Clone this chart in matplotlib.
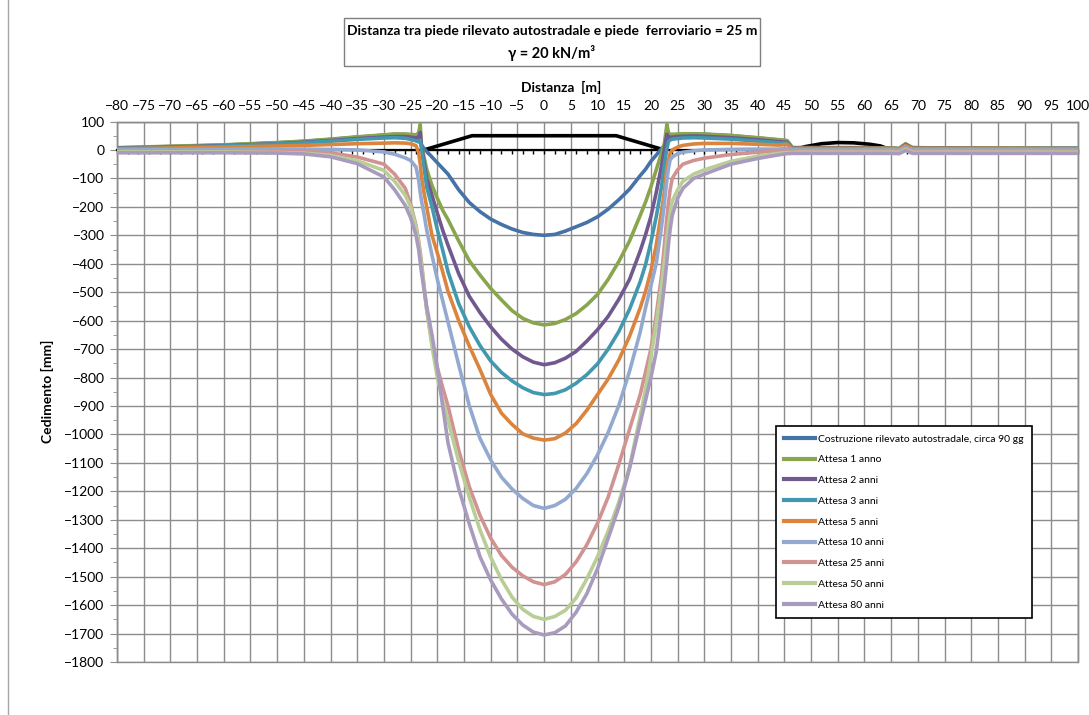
import matplotlib
matplotlib.use("Agg")
import matplotlib.pyplot as plt
from matplotlib.ticker import MultipleLocator
from matplotlib.patches import Rectangle
from matplotlib.lines import Line2D

plt.rcParams['font.family'] = ['Lato', 'DejaVu Sans']

# distanza [m] - shared x positions of all series
X = [-80, -70, -60, -50, -45, -40, -35, -30,
     -28, -26, -25, -24, -23.5, -23.2, -23, -22.5,
     -22, -21, -20, -19, -18, -16, -14, -12,
     -10, -8, -6, -4, -2, 0,
     2, 4, 6, 8, 10, 12, 14, 16,
     18, 19, 20, 21, 22, 22.5, 23, 23.3,
     23.6, 24, 25, 26, 28, 30, 35, 40,
     44, 45.5, 46.5, 48, 55, 60, 65, 66.5,
     67.7, 69, 75, 85, 100]

# cedimento [mm]
costruzione = [7, 12, 17, 25, 30, 37, 45, 52,
               55, 54, 52, 48, 42, 30, 18, 5,
               -5, -25, -45, -65, -85, -140, -185, -217,
               -243, -262, -278, -290, -297, -300,
               -297, -285, -270, -255, -235, -208, -175, -138,
               -90, -68, -40, -18, 5, 15, 28, 35,
               40, 45, 50, 53, 55, 55, 50, 42,
               35, 32, 8, 8, 8, 8, 7, 5,
               20, 8, 7, 6, 6]
anni_1 = [8, 13, 18, 26, 31, 38, 46, 53,
          56, 56, 55, 53, 60, 90, 20, -25,
          -67, -125, -170, -212, -245, -320, -390, -440,
          -487, -527, -565, -592, -608, -615,
          -610, -596, -575, -545, -508, -455, -392, -320,
          -230, -183, -130, -70, -10, 20, 90, 60,
          55, 55, 56, 57, 57, 56, 51, 43,
          36, 33, 8, 8, 8, 8, 7, 5,
          22, 8, 7, 7, 6]
anni_2 = [6, 10, 15, 22, 27, 33, 40, 45,
          47, 47, 45, 42, 45, 62, 20, -40,
          -100, -160, -222, -282, -335, -435, -515, -572,
          -622, -665, -700, -727, -746, -755,
          -748, -732, -708, -672, -632, -585, -525, -455,
          -355, -298, -234, -150, -55, 0, 55, 45,
          44, 45, 47, 48, 49, 48, 43, 36,
          29, 27, 6, 6, 6, 6, 5, 3,
          18, 6, 6, 5, 5]
anni_3 = [5, 9, 14, 21, 25, 31, 37, 42,
          43, 41, 37, 32, 28, 35, 8, -60,
          -130, -200, -280, -352, -428, -540, -622, -688,
          -742, -782, -812, -836, -853, -860,
          -856, -843, -820, -790, -752, -700, -638, -560,
          -463, -403, -325, -235, -128, -55, 5, 30,
          35, 38, 40, 42, 43, 42, 38, 31,
          25, 24, 4, 4, 4, 4, 4, 2,
          16, 4, 4, 4, 4]
anni_5 = [4, 7, 10, 14, 16, 19, 22, 24,
          25, 24, 22, 15, -10, -50, -90, -150,
          -200, -300, -362, -428, -497, -600, -690, -772,
          -860, -925, -965, -998, -1013, -1020,
          -1015, -995, -962, -915, -860, -805, -738, -655,
          -555, -497, -425, -335, -215, -150, -59, -35,
          -12, 0, 10, 16, 21, 23, 23, 20,
          17, 20, 4, 5, 5, 5, 5, 3,
          15, 5, 5, 5, 4]
anni_10 = [0, 1, 2, 3, 3, 2, 0, -7,
           -15, -28, -37, -60, -105, -150, -175, -225,
           -280, -370, -455, -530, -605, -755, -900, -1015,
           -1090, -1150, -1192, -1225, -1250, -1260,
           -1250, -1228, -1190, -1138, -1072, -993, -898, -778,
           -640, -555, -478, -400, -270, -190, -105, -65,
           -35, -25, -13, -8, -3, 0, 2, 3,
           3, 6, 0, 0, 0, 0, 0, -1,
           10, 0, 0, 0, 0]
anni_25 = [-4, -3, -3, -4, -6, -10, -25, -50,
           -85, -135, -190, -265, -320, -360, -390, -475,
           -560, -680, -765, -835, -900, -1055, -1185, -1285,
           -1365, -1425, -1467, -1497, -1518, -1528,
           -1518, -1492, -1448, -1388, -1312, -1220, -1105, -982,
           -860, -780, -700, -580, -440, -340, -235, -185,
           -140, -100, -70, -50, -37, -29, -16, -8,
           -4, -1, -4, -4, -5, -5, -5, -6,
           5, -5, -5, -5, -5]
anni_50 = [-7, -7, -7, -9, -11, -19, -38, -72,
           -110, -160, -200, -270, -330, -370, -400, -480,
           -560, -690, -800, -880, -950, -1095, -1222, -1336,
           -1432, -1510, -1572, -1615, -1640, -1650,
           -1640, -1618, -1575, -1508, -1430, -1340, -1238, -1115,
           -935, -840, -730, -610, -475, -400, -310, -265,
           -225, -180, -140, -110, -85, -70, -40, -22,
           -12, -9, -9, -8, -8, -8, -8, -9,
           2, -8, -8, -8, -8]
anni_80 = [-10, -10, -10, -11, -14, -24, -48, -95,
           -140, -195, -238, -300, -350, -395, -425, -490,
           -550, -650, -765, -900, -1030, -1190, -1315, -1430,
           -1512, -1578, -1632, -1670, -1695, -1705,
           -1697, -1673, -1625, -1560, -1472, -1365, -1255, -1120,
           -960, -880, -800, -710, -560, -480, -390, -330,
           -280, -230, -170, -135, -100, -85, -50, -30,
           -17, -13, -12, -12, -12, -12, -12, -13,
           -2, -12, -12, -12, -12]

# profilo rilevato autostradale e rilevato ferroviario
rilevato_x = [-22.5, -13.5, 13.5, 22.5]
rilevato_y = [0, 50, 50, 0]
ferrovia_x = [46.5, 49, 52, 55, 58, 61, 63, 65]
ferrovia_y = [0, 12, 22, 26, 25, 20, 14, 0]

labels = ['Costruzione rilevato autostradale, circa 90 gg', 'Attesa 1 anno',
          'Attesa 2 anni', 'Attesa 3 anni', 'Attesa 5 anni', 'Attesa 10 anni',
          'Attesa 25 anni', 'Attesa 50 anni', 'Attesa 80 anni']
series = [costruzione, anni_1, anni_2, anni_3, anni_5, anni_10, anni_25, anni_50, anni_80]
colors = ['#4572A7', '#89A54E', '#71588F', '#4198AF', '#DB843D',
          '#93A9CF', '#D19392', '#B9CD96', '#A99BBD']

W, H = 1089, 715
fig = plt.figure(figsize=(W / 100, H / 100), dpi=100)
ax = fig.add_axes([117 / W, 1 - 662 / H, (1078 - 117) / W, (662 - 121.5) / H])

grid_col = '#8c8c8c'
ax.plot(rilevato_x, rilevato_y, color='black', lw=2.6, zorder=3)
ax.plot(ferrovia_x, ferrovia_y, color='black', lw=2.6, zorder=3)
for vals, lab, col in zip(series, labels, colors):
    ax.plot(X, vals, color=col, lw=2.6, label=lab, zorder=4)

ax.set_xlim(-80, 100)
ax.set_ylim(-1800, 100)
ax.xaxis.set_major_locator(MultipleLocator(5))
ax.xaxis.set_minor_locator(MultipleLocator(2))
ax.xaxis.remove_overlapping_locs = False
ax.yaxis.set_major_locator(MultipleLocator(100))
ax.yaxis.set_minor_locator(MultipleLocator(50))
ax.grid(which='major', color=grid_col, lw=1.0, zorder=0)
ax.set_axisbelow(True)

ax.spines['bottom'].set_position(('data', 0))
ax.spines['bottom'].set_color('black')
ax.spines['bottom'].set_linewidth(1.6)
ax.spines['bottom'].set_zorder(2)
for s in ['top', 'left', 'right']:
    ax.spines[s].set_color(grid_col)
    ax.spines[s].set_linewidth(1.0)
ax.add_patch(Rectangle((0, 0), 1, 1, transform=ax.transAxes, fill=False,
                       edgecolor=grid_col, lw=1.0, clip_on=False, zorder=1))

ax.tick_params(axis='x', which='major', length=0, labeltop=True, labelbottom=False,
               labelsize=10, pad=7)
ax.tick_params(axis='x', which='minor', bottom=True, top=False, direction='out',
               length=3, width=1, color='black')
ax.tick_params(axis='y', which='major', length=5, color=grid_col, labelsize=10, pad=4)
ax.tick_params(axis='y', which='minor', length=3, color=grid_col)

fig.text(561 / W, 1 - 87 / H, 'Distanza  [m]', ha='center', va='center',
         fontsize=10, fontweight='bold')
fig.text(47 / W, 1 - 391 / H, 'Cedimento [mm]', ha='center', va='center',
         rotation=90, fontsize=10, fontweight='bold')

# chart area border (left edge) and title box
fig.lines.append(Line2D([7.5 / W, 7.5 / W], [0, 1], transform=fig.transFigure,
                        color='#a6a6a6', lw=1.0))
fig.patches.append(Rectangle((344 / W, 1 - 66 / H), 416 / W, 48 / H, transform=fig.transFigure,
                             fill=False, edgecolor='#7f7f7f', lw=1.0))
fig.text(552 / W, 1 - 31 / H, 'Distanza tra piede rilevato autostradale e piede  ferroviario = 25 m',
         ha='center', va='center', fontsize=10, fontweight='bold')
fig.text(552 / W, 1 - 53 / H, 'γ = 20 kN/m³', ha='center', va='center',
         fontsize=10.5, fontweight='bold')

leg = ax.legend(loc='upper left', bbox_to_anchor=(776 / W, 1 - 426 / H),
                bbox_transform=fig.transFigure, fontsize=7.5, frameon=True,
                fancybox=False, edgecolor='black', framealpha=1, borderaxespad=0,
                handlelength=2.9, handletextpad=0.3, labelspacing=1.1, borderpad=0.8)
leg.get_frame().set_linewidth(1.2)
for h in leg.get_lines():
    h.set_linewidth(3.0)

fig.savefig('out.png', dpi=100)
